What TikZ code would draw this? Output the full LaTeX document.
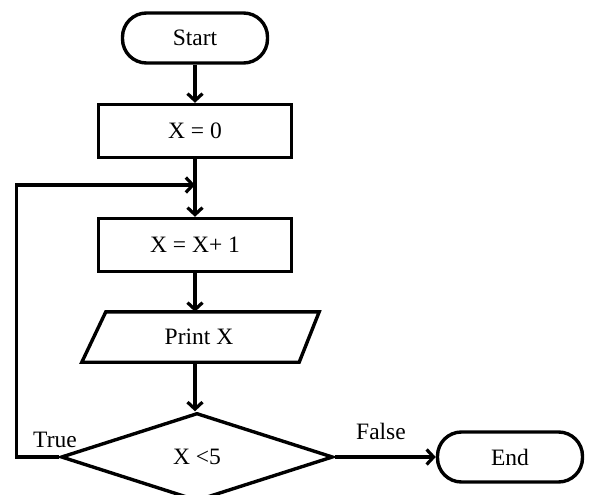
\documentclass[tikz,border=0pt]{standalone}
\usepackage{fontspec}
\setmainfont{Liberation Serif}
\usetikzlibrary{arrows.meta,shapes.geometric}

\tikzset{
  flowline/.style={line width=3.4pt},
  flowarrow/.style={flowline,-{Straight Barb[length=7pt,width=15pt,line width=3.2pt]}},
  terminal/.style={draw,flowline,rounded corners=24pt,minimum width=145pt,minimum height=50pt,inner sep=0pt},
  process/.style={draw,flowline,minimum width=193pt,minimum height=53pt,inner sep=0pt},
  decision/.style={draw,flowline,diamond,minimum width=272pt,minimum height=88pt,inner sep=0pt},
  iobox/.style={minimum width=190pt,minimum height=50pt,inner sep=0pt},
  every node/.style={font=\fontsize{23.5}{28}\selectfont}
}

\begin{document}
\begin{tikzpicture}[x=1pt,y=-1pt]
            \useasboundingbox (0,0) rectangle (589,495);
            \fill[white] (0,0) rectangle (589,495);

            \node[terminal] (start) at (195,38) {Start};
            \node[process] (init) at (195,131) {X = 0};
            \node[process] (incr) at (195,245) {X = X+ 1};
            \node[iobox] (print) at (195,337) {\hspace*{8pt}Print X};
            \node[decision] (cond) at (197,457) {X {<}5};
            \node[terminal] (stop) at (510,457) {End};
            \coordinate (join) at (195,185);

            % parallelogram round the print node
            \draw[flowline] ([xshift=6pt]print.north west) -- ([xshift=29pt]print.north east)
              -- ([xshift=9pt]print.south east) -- ([xshift=-18pt]print.south west) -- cycle;

            \draw[flowarrow] (start) -- (init);
            \draw[flowline] (init) -- (join);
            \draw[flowarrow] (join) -- (incr);
            \draw[flowarrow] (incr) -- (print.north);
            \draw[flowarrow] (print.south) -- (print.south |- cond.north);
            \draw[flowarrow] (cond.west) -- ++(-43,0) |- (join);
            \draw[flowarrow] (cond.east) -- (stop.west);

            \node (truelbl) at (55,440) {True};
            \node (falselbl) at (381,431) {False};
        \end{tikzpicture}
\end{document}
